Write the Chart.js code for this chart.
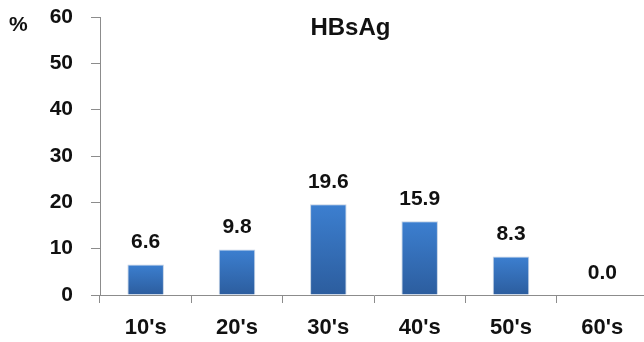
<!DOCTYPE html>
<html>
<head>
<meta charset="utf-8">
<script src="https://cdn.jsdelivr.net/npm/chart.js@4.4.1/dist/chart.umd.min.js"></script>
<style>
  html, body { margin: 0; padding: 0; background: #ffffff; overflow: hidden; }
  #wrap { width: 650px; height: 342px; }
</style>
</head>
<body>
<div id="wrap"><canvas id="c" width="650" height="342"></canvas></div>
<script>
// Age groups and HBsAg positivity (%)
const ageGroups = ["10's", "20's", "30's", "40's", "50's", "60's"];
const hbsagRates = [6.6, 9.8, 19.6, 15.9, 8.3, 0.0];
const yTicks = [0, 10, 20, 30, 40, 50, 60];

const FONT = '"Liberation Sans", Arial, sans-serif';

// Vertical blue gradient for each bar, spanning from its top to the baseline
function barGradient(ctx) {
  const chart = ctx.chart;
  const yScale = chart.scales.y;
  if (!chart.chartArea || !yScale || ctx.raw === undefined) return '#3a78c6';
  const top = yScale.getPixelForValue(ctx.raw);
  const bottom = yScale.getPixelForValue(0);
  if (!(bottom > top + 0.5)) return '#3a78c6';
  const g = chart.ctx.createLinearGradient(0, top, 0, bottom);
  g.addColorStop(0, '#3c7fd0');
  g.addColorStop(1, '#2c5d9e');
  return g;
}

// Value labels above bars, the title and the unit label
const overlay = {
  id: 'overlay',
  afterDatasetsDraw(chart) {
    const ctx = chart.ctx;
    const meta = chart.getDatasetMeta(0);
    ctx.save();
    ctx.fillStyle = '#111111';
    ctx.textAlign = 'center';
    ctx.textBaseline = 'middle';
    ctx.font = 'bold 21px ' + FONT;
    meta.data.forEach((bar, i) => {
      ctx.fillText(hbsagRates[i].toFixed(1), bar.x, bar.y - 22);
    });
    const area = chart.chartArea;
    ctx.font = 'bold 24px ' + FONT;
    ctx.fillText('HBsAg', area.left + (area.right - area.left) * 0.457, 28);
    ctx.font = 'bold 21px ' + FONT;
    ctx.textAlign = 'left';
    ctx.fillText('%', 9, 25);
    ctx.restore();
  }
};

new Chart(document.getElementById('c'), {
  type: 'bar',
  data: {
    labels: ageGroups,
    datasets: [{
      data: hbsagRates,
      backgroundColor: barGradient,
      borderColor: 'rgba(190,205,225,0.9)',
      borderWidth: { top: 1, left: 1, right: 1, bottom: 0 },
      borderSkipped: 'bottom',
      categoryPercentage: 0.4,
      barPercentage: 1.0
    }]
  },
  options: {
    responsive: false,
    animation: false,
    layout: { padding: { top: 17, right: 2, left: 0, bottom: 0 } },
    plugins: {
      legend: { display: false },
      tooltip: { enabled: false },
      title: { display: false }
    },
    scales: {
      x: {
        offset: true,
        grid: {
          offset: true,
          drawOnChartArea: false,
          drawTicks: true,
          tickLength: 8,
          color: '#8c8c8c',
          lineWidth: 1
        },
        border: { display: true, color: '#8c8c8c', width: 1 },
        ticks: {
          color: '#111111',
          font: { family: FONT, size: 22, weight: 'bold' },
          padding: 12,
          maxRotation: 0
        },
        afterFit(scale) { scale.height = 47; }
      },
      y: {
        min: 0,
        max: 60,
        afterBuildTicks(scale) { scale.ticks = yTicks.map(v => ({ value: v })); },
        grid: {
          drawOnChartArea: false,
          drawTicks: true,
          tickLength: 9,
          color: '#8c8c8c',
          lineWidth: 1
        },
        border: { display: true, color: '#8c8c8c', width: 1 },
        ticks: {
          color: '#111111',
          font: { family: FONT, size: 21, weight: 'bold' },
          padding: 18
        },
        afterFit(scale) {
          scale.width = 100;
          scale.paddingTop = 0;
          scale.paddingBottom = 0;
        }
      }
    }
  },
  plugins: [overlay]
});
</script>
</body>
</html>
